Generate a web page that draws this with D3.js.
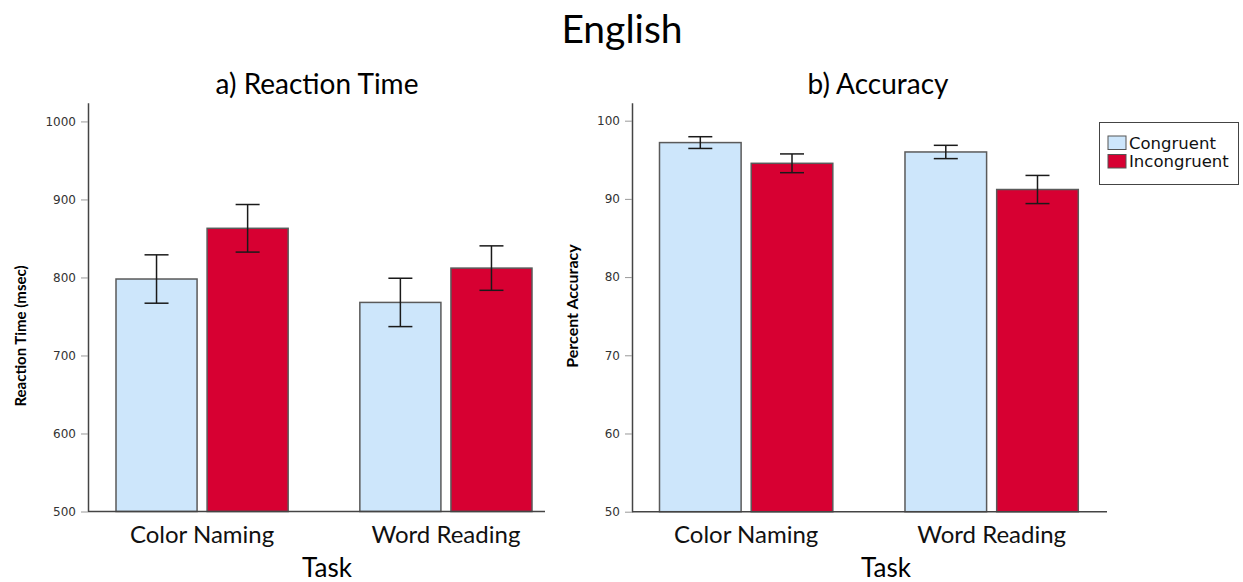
<!DOCTYPE html>
<html>
<head>
<meta charset="utf-8">
<script src="https://cdn.jsdelivr.net/npm/d3@7"></script>
<style>
  html, body { margin: 0; padding: 0; background: #fff; }
  svg { display: block; }
</style>
</head>
<body>
<svg id="chart" width="1243" height="582"></svg>
<script>
// Task categories and condition series
const tasks = ["Color Naming", "Word Reading"];
const conditions = ["Congruent", "Incongruent"];

// Reaction time means and error half-widths (msec), per task, in condition order
const rtMeans = [[798, 863], [768, 812]];
const rtErrors = [[31, 30.5], [31, 28.5]];

// Accuracy means and error half-widths (percent)
const accMeans = [[97.2, 94.55], [96.0, 91.2]];
const accErrors = [[0.75, 1.2], [0.85, 1.8]];

// Axis tick values
const rtTicks = [500, 600, 700, 800, 900, 1000];
const accTicks = [50, 60, 70, 80, 90, 100];

const colors = { Congruent: "#cde6fb", Incongruent: "#d70032" };
const calibriLike = "Lato, 'Open Sans', sans-serif";
const tickFont = "'DejaVu Sans', sans-serif";

const svg = d3.select("#chart");

svg.append("text")
  .attr("x", 622).attr("y", 43)
  .attr("text-anchor", "middle")
  .style("font-family", calibriLike)
  .style("font-size", "39px")
  .text("English");

function panel(cfg) {
  const g = svg.append("g");
  const y = d3.scaleLinear().domain(cfg.yDomain).range([cfg.bottom, cfg.top]);
  const x0 = d3.scaleBand().domain(tasks).range(cfg.groupRange)
    .paddingInner(0.294).paddingOuter(0);
  const x1 = d3.scaleBand().domain(conditions).range([0, x0.bandwidth()])
    .paddingInner(0.11).paddingOuter(0);

  // Bars with error bars
  tasks.forEach((t, ti) => {
    conditions.forEach((c, ci) => {
      const v = cfg.means[ti][ci];
      const e = cfg.errors[ti][ci];
      const bx = x0(t) + x1(c);
      const bw = x1.bandwidth();
      g.append("rect")
        .attr("x", bx).attr("y", y(v))
        .attr("width", bw).attr("height", y(cfg.yDomain[0]) - y(v))
        .attr("fill", colors[c])
        .attr("stroke", "#5a5a5a").attr("stroke-width", 1.5);
      const cx = bx + bw / 2;
      const eb = g.append("g").attr("stroke", "#1a1a1a").attr("stroke-width", 1.5);
      eb.append("line").attr("x1", cx).attr("x2", cx).attr("y1", y(v - e)).attr("y2", y(v + e));
      eb.append("line").attr("x1", cx - 12).attr("x2", cx + 12).attr("y1", y(v + e)).attr("y2", y(v + e));
      eb.append("line").attr("x1", cx - 12).attr("x2", cx + 12).attr("y1", y(v - e)).attr("y2", y(v - e));
    });
  });

  // Y axis
  const ya = g.append("g")
    .attr("transform", `translate(${cfg.left},0)`)
    .call(d3.axisLeft(y).tickValues(cfg.ticks).tickFormat(d3.format("d"))
      .tickSize(7).tickSizeOuter(0).tickPadding(5));
  ya.select(".domain").attr("stroke", "#444").attr("stroke-width", 1.5);
  ya.selectAll(".tick line").attr("stroke", "#999").attr("stroke-width", 1);
  ya.selectAll(".tick text")
    .style("font-family", tickFont).style("font-size", "12px").attr("fill", "#333");

  // Baseline
  g.append("line")
    .attr("x1", cfg.left).attr("x2", cfg.right)
    .attr("y1", y(cfg.yDomain[0])).attr("y2", y(cfg.yDomain[0]))
    .attr("stroke", "#444").attr("stroke-width", 1.5);

  // Category labels
  const xa = g.append("g")
    .attr("transform", `translate(0,${y(cfg.yDomain[0])})`)
    .call(d3.axisBottom(x0).tickSize(0).tickPadding(14));
  xa.select(".domain").remove();
  xa.selectAll(".tick text")
    .style("font-family", calibriLike).style("font-size", "24px").attr("fill", "#111");

  // Axis titles
  g.append("text")
    .attr("x", cfg.taskX).attr("y", 577)
    .attr("text-anchor", "middle")
    .style("font-family", calibriLike).style("font-size", "26px")
    .text("Task");

  g.append("text")
    .attr("transform", `translate(${cfg.yTitleX},${cfg.yTitleY}) rotate(-90)`)
    .attr("text-anchor", "middle")
    .style("font-family", calibriLike)
    .style("font-weight", "bold").style("font-size", cfg.yTitleSize)
    .text(cfg.yTitle);

  g.append("text")
    .attr("x", cfg.titleX).attr("y", 94)
    .attr("text-anchor", "middle")
    .style("font-family", calibriLike).style("font-size", "28px")
    .text(cfg.title);
}

panel({
  means: rtMeans, errors: rtErrors, ticks: rtTicks,
  yDomain: [500, 1024], top: 102.7, bottom: 511.5,
  left: 88, right: 545, groupRange: [116, 532],
  taskX: 327, titleX: 317, title: "a) Reaction Time",
  yTitle: "Reaction Time (msec)", yTitleX: 26, yTitleY: 336, yTitleSize: "15px"
});

panel({
  means: accMeans, errors: accErrors, ticks: accTicks,
  yDomain: [50, 102.3], top: 102.7, bottom: 511.7,
  left: 632, right: 1107, groupRange: [659.5, 1078.3],
  taskX: 886, titleX: 878, title: "b) Accuracy",
  yTitle: "Percent Accuracy", yTitleX: 578, yTitleY: 306, yTitleSize: "16px"
});

// Legend
const lg = svg.append("g");
lg.append("rect")
  .attr("x", 1099.5).attr("y", 122.5).attr("width", 139).attr("height", 62)
  .attr("fill", "#fff").attr("stroke", "#444").attr("stroke-width", 1);
conditions.forEach((c, i) => {
  const yy = 136 + i * 18.5;
  lg.append("rect")
    .attr("x", 1108).attr("y", yy).attr("width", 18).attr("height", 13.5)
    .attr("fill", colors[c]).attr("stroke", "#555").attr("stroke-width", 1);
  lg.append("text")
    .attr("x", 1129).attr("y", yy + 12.5)
    .style("font-family", "'DejaVu Sans', sans-serif").style("font-size", "16.5px")
    .attr("fill", "#111")
    .text(c);
});
</script>
</body>
</html>
